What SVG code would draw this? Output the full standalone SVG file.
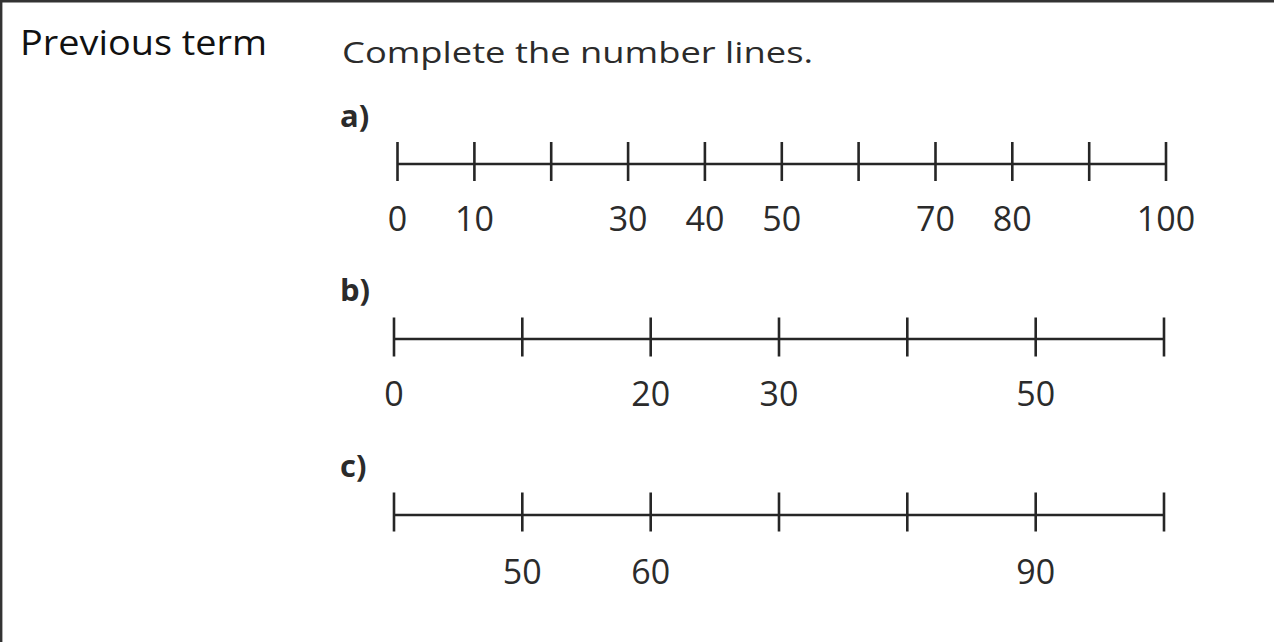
<svg xmlns="http://www.w3.org/2000/svg" width="1274" height="642" viewBox="0 0 1274 642">
<style>
.ln{stroke:#262626;stroke-width:2.6;fill:none;stroke-linecap:butt}
.num{font-family:"Open Sans","Noto Sans",sans-serif;font-size:34px;fill:#2b2b2b;text-anchor:middle}
.lbl{font-family:"Open Sans","Noto Sans",sans-serif;font-size:31px;font-weight:bold;fill:#2b2b2b}
.title{font-family:"Open Sans","Noto Sans",sans-serif;font-size:30px;fill:#2b2b2b}
.hand{font-family:"Open Sans","Noto Sans",sans-serif;font-size:35px;font-weight:normal;fill:#111}
</style>
<rect width="1274" height="642" fill="#fff"/>
<g id="frame">
<line x1="0" y1="1.2" x2="1274" y2="1.2" stroke="#333" stroke-width="2.4"/>
<line x1="1.2" y1="0" x2="1.2" y2="642" stroke="#333" stroke-width="2.4"/>
</g>
<g id="header">
<text class="hand" x="20" y="55" textLength="247" lengthAdjust="spacingAndGlyphs">Previous term</text>
<text class="title" x="342" y="63" textLength="471" lengthAdjust="spacingAndGlyphs">Complete the number lines.</text>
</g>
<g id="line-a">
<text class="lbl" x="340" y="127">a)</text>
<path class="ln" d="M397.5 164H1166"/>
<path class="ln" d="M397.5 142V181M474.4 142V181M551.2 142V181M628.1 142V181M704.9 142V181M781.8 142V181M858.6 142V181M935.5 142V181M1012.3 142V181M1089.2 142V181M1166 142V181"/>
<text class="num" x="397.5" y="231">0</text>
<text class="num" x="474.4" y="231">10</text>
<text class="num" x="628.1" y="231">30</text>
<text class="num" x="704.9" y="231">40</text>
<text class="num" x="781.8" y="231">50</text>
<text class="num" x="935.5" y="231">70</text>
<text class="num" x="1012.3" y="231">80</text>
<text class="num" x="1166" y="231">100</text>
</g>
<g id="line-b">
<text class="lbl" x="340" y="301">b)</text>
<path class="ln" d="M394 339H1164"/>
<path class="ln" d="M394 317.5V356.5M522.3 317.5V356.5M650.7 317.5V356.5M779 317.5V356.5M907.3 317.5V356.5M1035.7 317.5V356.5M1164 317.5V356.5"/>
<text class="num" x="394" y="406">0</text>
<text class="num" x="650.7" y="406">20</text>
<text class="num" x="779" y="406">30</text>
<text class="num" x="1035.7" y="406">50</text>
</g>
<g id="line-c">
<text class="lbl" x="340" y="477">c)</text>
<path class="ln" d="M394 515H1164"/>
<path class="ln" d="M394 492.5V531.5M522.3 492.5V531.5M650.7 492.5V531.5M779 492.5V531.5M907.3 492.5V531.5M1035.7 492.5V531.5M1164 492.5V531.5"/>
<text class="num" x="522.3" y="584">50</text>
<text class="num" x="650.7" y="584">60</text>
<text class="num" x="1035.7" y="584">90</text>
</g>
</svg>
